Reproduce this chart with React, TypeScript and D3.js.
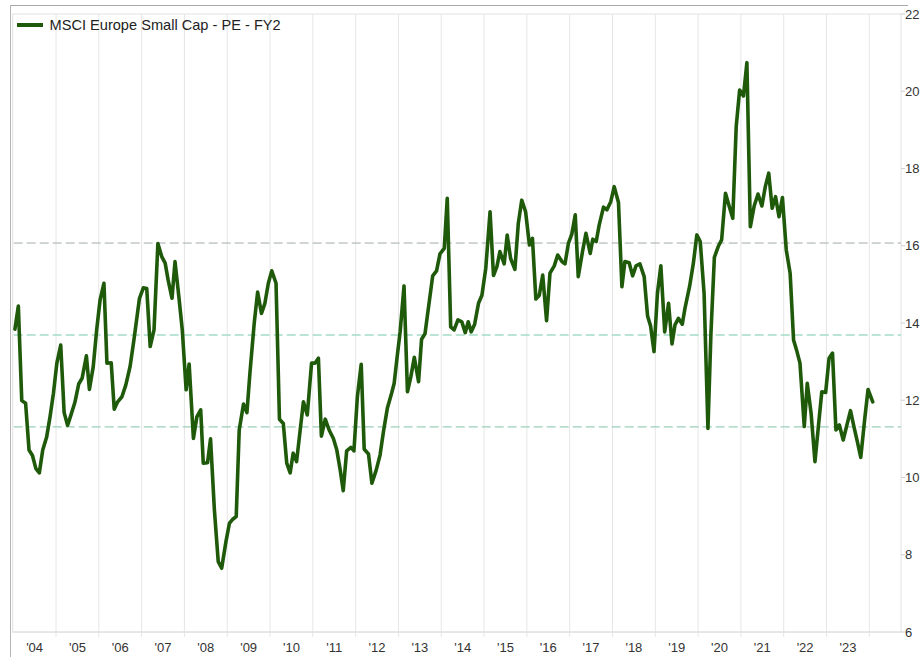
import * as d3 from "d3";

// MSCI Europe Small Cap - forward PE (FY2)
const dates = [
  2004.04, 2004.12, 2004.2, 2004.29, 2004.37, 2004.45, 2004.53, 2004.61, 2004.69, 2004.78, 2004.86, 2004.94,
  2005.02, 2005.11, 2005.19, 2005.27, 2005.35, 2005.44, 2005.53, 2005.61, 2005.71, 2005.78, 2005.87, 2005.95,
  2006.03, 2006.12, 2006.19, 2006.29, 2006.36, 2006.44, 2006.54, 2006.63, 2006.73, 2006.82, 2006.95,
  2007.04, 2007.12, 2007.2, 2007.29, 2007.38, 2007.47, 2007.55, 2007.62, 2007.71, 2007.78, 2007.87, 2007.95,
  2008.04, 2008.11, 2008.21, 2008.29, 2008.38, 2008.44, 2008.54, 2008.61, 2008.7, 2008.79, 2008.87, 2008.97,
  2009.05, 2009.13, 2009.21, 2009.28, 2009.38, 2009.46, 2009.53, 2009.63, 2009.71, 2009.8, 2009.88, 2009.96,
  2010.04, 2010.14, 2010.22, 2010.31, 2010.39, 2010.47, 2010.54, 2010.62, 2010.78, 2010.87, 2010.97,
  2011.05, 2011.13, 2011.2, 2011.29, 2011.38, 2011.48, 2011.56, 2011.64, 2011.71, 2011.79, 2011.89, 2011.96,
  2012.04, 2012.13, 2012.2, 2012.3, 2012.38, 2012.48, 2012.57, 2012.65, 2012.74, 2012.84, 2012.9, 2012.97,
  2013.04, 2013.13, 2013.21, 2013.29, 2013.37, 2013.47, 2013.54, 2013.62, 2013.71, 2013.8, 2013.89, 2013.97,
  2014.07, 2014.14, 2014.22, 2014.3, 2014.39, 2014.48, 2014.56, 2014.63, 2014.7, 2014.78, 2014.87, 2014.95,
  2015.04, 2015.14, 2015.22, 2015.3, 2015.37, 2015.47, 2015.54, 2015.62, 2015.72, 2015.8, 2015.88, 2015.97,
  2016.06, 2016.13, 2016.21, 2016.29, 2016.37, 2016.46, 2016.54, 2016.64, 2016.72, 2016.82, 2016.89, 2016.97,
  2017.05, 2017.13, 2017.2, 2017.3, 2017.38, 2017.48, 2017.54, 2017.62, 2017.69, 2017.79, 2017.87, 2017.96,
  2018.04, 2018.14, 2018.22, 2018.29, 2018.39, 2018.47, 2018.55, 2018.64, 2018.74, 2018.82, 2018.89, 2018.97,
  2019.05, 2019.13, 2019.22, 2019.31, 2019.39, 2019.46, 2019.54, 2019.63, 2019.7, 2019.8, 2019.89, 2019.97,
  2020.05, 2020.14, 2020.23, 2020.3, 2020.38, 2020.47, 2020.55, 2020.64, 2020.73, 2020.81, 2020.89, 2020.97,
  2021.06, 2021.14, 2021.22, 2021.31, 2021.4, 2021.49, 2021.57, 2021.65, 2021.73, 2021.81, 2021.89, 2021.97,
  2022.06, 2022.15, 2022.23, 2022.31, 2022.38, 2022.48, 2022.55, 2022.64, 2022.73, 2022.81, 2022.89, 2022.98,
  2023.06, 2023.14, 2023.22, 2023.3, 2023.39, 2023.47, 2023.56, 2023.64, 2023.72, 2023.8, 2023.89, 2023.97,
  2024.08,
];

const peValues = [
  13.84, 14.44, 11.99, 11.92, 10.71, 10.57, 10.23, 10.12, 10.71, 11.04, 11.57, 12.18,
  12.96, 13.43, 11.68, 11.35, 11.62, 11.94, 12.42, 12.57, 13.15, 12.28, 12.87, 13.82,
  14.6, 15.03, 12.96, 12.97, 11.77, 11.96, 12.09, 12.39, 12.87, 13.56, 14.64,
  14.91, 14.89, 13.39, 13.82, 16.06, 15.72, 15.55, 15.11, 14.64, 15.59, 14.68, 13.82,
  12.27, 12.94, 11.01, 11.57, 11.75, 10.37, 10.38, 11.0, 9.16, 7.82, 7.65, 8.34,
  8.81, 8.92, 8.99, 11.23, 11.9, 11.68, 12.7, 13.99, 14.8, 14.25, 14.51, 15.03,
  15.35, 15.03, 11.51, 11.4, 10.37, 10.12, 10.63, 10.41, 11.96, 11.62, 12.96,
  12.96, 13.09, 11.07, 11.51, 11.23, 11.01, 10.71, 10.19, 9.66, 10.69, 10.78, 10.69,
  12.09, 12.93, 10.73, 10.61, 9.85, 10.19, 10.58, 11.19, 11.79, 12.18, 12.44, 13.13,
  13.78, 14.96, 12.22, 12.61, 13.11, 12.48, 13.58, 13.72, 14.47, 15.22, 15.35, 15.79,
  15.93, 17.23, 13.9, 13.82, 14.08, 14.03, 13.75, 14.03, 13.77, 13.97, 14.51, 14.72,
  15.42, 16.88, 15.23, 15.46, 15.85, 15.53, 16.28, 15.67, 15.39, 16.58, 17.18, 16.88,
  16.02, 16.19, 14.62, 14.72, 15.24, 14.06, 15.29, 15.48, 15.76, 15.59, 15.53, 16.06,
  16.3, 16.8, 15.2, 15.85, 16.32, 15.8, 16.17, 16.11, 16.54, 17.0, 16.93, 17.14,
  17.53, 17.12, 14.94, 15.59, 15.56, 15.22, 15.48, 15.53, 15.2, 14.18, 13.92, 13.26,
  14.77, 15.48, 13.77, 14.51, 13.46, 13.95, 14.12, 13.97, 14.42, 14.94, 15.55, 16.28,
  16.11, 14.77, 11.27, 13.73, 15.7, 15.98, 16.15, 17.36, 17.01, 16.71, 19.08, 20.03,
  19.88, 20.74, 16.49, 17.03, 17.34, 17.03, 17.53, 17.88, 16.97, 17.27, 16.75, 17.25,
  15.89, 15.29, 13.56, 13.26, 12.96, 11.32, 12.44, 11.66, 10.41, 11.32, 12.22, 12.2,
  13.09, 13.22, 11.23, 11.36, 10.97, 11.33, 11.73, 11.32, 10.93, 10.52, 11.49, 12.28,
  11.96,
];

// +1 std, average, -1 std
const refLevels = [16.07, 13.69, 11.31];
const yTicks = [6, 8, 10, 12, 14, 16, 18, 20, 22];
const yearLabels = ["'04", "'05", "'06", "'07", "'08", "'09", "'10", "'11", "'12", "'13",
  "'14", "'15", "'16", "'17", "'18", "'19", "'20", "'21", "'22", "'23"];
const gridYears = d3.range(2005, 2025);

const seriesName = "MSCI Europe Small Cap - PE - FY2";

export default function App() {
  const width = 923;
  const height = 657;
  const plot = { left: 12.7, right: 901, top: 14, bottom: 632 };
  const font = "'Liberation Sans', Arial, Helvetica, sans-serif";

  const x = d3.scaleLinear().domain([2004, 2024.74]).range([13.2, plot.right]);
  const y = d3.scaleLinear().domain([6, 22]).range([plot.bottom, plot.top]);

  const points = dates.map((d, i) => ({ t: d, v: peValues[i] }));
  const line = d3.line<{ t: number; v: number }>()
    .x(d => x(d.t))
    .y(d => y(d.v));

  const refStyles = [
    { stroke: "#a2aca7", width: 1 },
    { stroke: "#a6dcc6", width: 1.5 },
    { stroke: "#9ccfb8", width: 1.2 },
  ];

  return (
    <svg width={width} height={height}
      style={{ position: "absolute", left: 0, top: 0, display: "block", background: "#fff" }}>
      {/* outer frame */}
      <line x1={10} x2={908} y1={5.5} y2={5.5} stroke="#a8a8a8" />
      <line x1={10.5} x2={10.5} y1={5} y2={height} stroke="#b4b4b4" />

      {/* plot border */}
      <rect x={plot.left} y={plot.top} width={plot.right - plot.left} height={plot.bottom - plot.top}
        fill="none" stroke="#e2e2e2" />

      {/* vertical year grid */}
      {gridYears.map(yr => (
        <g key={yr}>
          <line x1={x(yr)} x2={x(yr)} y1={plot.top} y2={plot.bottom} stroke="#e6e6e6" />
          <line x1={x(yr)} x2={x(yr)} y1={plot.bottom} y2={plot.bottom + 5} stroke="#e6e6e6" />
        </g>
      ))}

      {/* x axis baseline */}
      <line x1={plot.left} x2={plot.right} y1={plot.bottom} y2={plot.bottom} stroke="#dcdcdc" />

      {/* reference lines */}
      {refLevels.map((lv, i) => (
        <line key={lv} x1={plot.left + 1} x2={plot.right} y1={y(lv)} y2={y(lv)}
          stroke={refStyles[i].stroke} strokeWidth={refStyles[i].width} strokeDasharray="9,4" />
      ))}

      {/* series */}
      <path d={line(points) ?? ""} fill="none" stroke="#1f5a0b" strokeWidth={3.6}
        strokeLinejoin="round" strokeLinecap="round" />

      {/* y axis (right) */}
      {yTicks.map(t => (
        <g key={t}>
          <line x1={plot.right} x2={plot.right + 4} y1={y(t)} y2={y(t)} stroke="#cfcfcf" />
          <text x={905} y={y(t)} dy="0.35em" fontFamily={font} fontSize={13} fill="#333">{t}</text>
        </g>
      ))}

      {/* x axis labels */}
      {yearLabels.map((lab, i) => (
        <text key={lab} x={x(2004 + i + 0.5)} y={652} textAnchor="middle"
          fontFamily={font} fontSize={13} fill="#333">{lab}</text>
      ))}

      {/* legend */}
      <line x1={17} x2={43} y1={25} y2={25} stroke="#1f5a0b" strokeWidth={4} />
      <text x={49.5} y={30} fontFamily={font} fontSize={14.6} fill="#222">{seriesName}</text>
    </svg>
  );
}
